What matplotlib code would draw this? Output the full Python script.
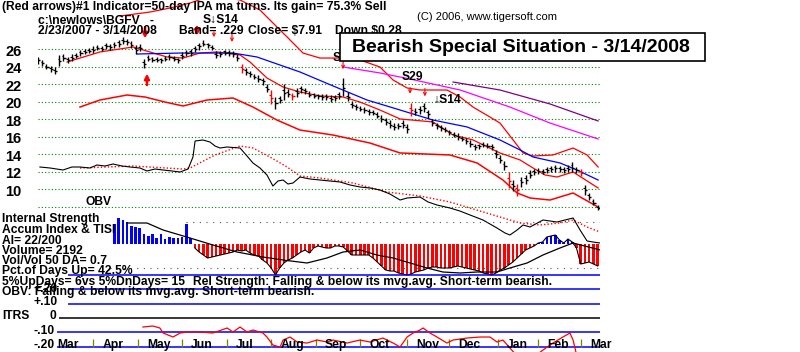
import numpy as np
import matplotlib
matplotlib.use("Agg")
import matplotlib.pyplot as plt
from matplotlib.patches import Rectangle

plt.rcParams['font.family'] = ['Liberation Sans', 'DejaVu Sans']

W, H = 800, 352
XMAX = 265.1          # trading days shown (2/23/2007 - 3/14/2008)

# ---------------- price bars (every 2nd trading day) ----------------
closes = [24.7, 24.4, 24.0, 23.7, 23.5, 24.6, 25.0, 24.7, 25.0, 25.2,
          25.5, 25.7, 25.8, 25.9, 26.1, 26.0, 26.3, 26.2, 26.4, 26.6,
          26.9, 26.8, 26.5, 25.9, 26.1, 24.3, 24.9, 24.8, 24.8, 24.7,
          24.9, 25.1, 24.9, 24.7, 25.2, 25.5, 25.6, 26.0, 26.3, 26.6,
          26.4, 26.1, 25.3, 25.4, 25.6, 25.5, 25.4, 25.0, 23.7, 23.4,
          23.1, 22.8, 22.6, 22.3, 21.5, 20.4, 19.8, 20.2, 21.0, 20.9,
          20.6, 21.0, 21.4, 21.2, 20.8, 20.7, 20.6, 20.5, 20.5, 20.3,
          20.4, 20.7, 21.6, 20.5, 19.6, 19.4, 19.2, 19.0, 18.8, 18.7,
          18.4, 18.0, 17.7, 17.4, 17.1, 17.2, 17.4, 16.9, 19.0, 18.8,
          19.0, 19.3, 18.6, 17.6, 17.2, 17.0, 16.8, 16.5, 16.2, 16.0,
          15.8, 15.5, 15.2, 14.8, 14.9, 15.1, 15.0, 14.8, 14.0, 13.4,
          12.7, 11.0, 10.4, 9.9, 10.8, 11.1, 11.7, 12.0, 12.1, 12.0,
          12.2, 12.3, 12.4, 12.3, 12.2, 12.3, 12.5, 12.2, 11.9, 9.9,
          9.2, 8.5, 7.9]
ranges = [0.8, 0.7, 0.6, 0.6, 0.8, 1.2, 0.8, 0.7, 0.7, 0.6,
          0.7, 0.6, 0.6, 0.7, 0.6, 0.6, 0.7, 0.6, 0.7, 0.8,
          0.8, 0.7, 0.8, 1.0, 0.8, 1.0, 0.7, 0.6, 0.5, 0.6,
          0.6, 0.7, 0.6, 0.6, 0.8, 0.7, 0.8, 0.7, 0.8, 0.7,
          0.6, 0.6, 0.8, 0.6, 0.6, 0.7, 0.6, 0.7, 1.0, 0.8,
          0.7, 0.6, 0.7, 0.8, 1.0, 1.6, 1.4, 0.9, 1.8, 0.9,
          0.8, 1.0, 0.8, 0.7, 0.7, 0.6, 0.6, 0.7, 0.6, 0.8,
          0.7, 0.8, 2.0, 1.0, 0.8, 0.7, 0.6, 0.7, 0.6, 0.6,
          0.7, 0.8, 0.9, 1.0, 0.8, 0.7, 1.0, 1.0, 1.5, 0.8,
          0.9, 1.0, 0.9, 0.8, 0.7, 0.7, 0.6, 0.6, 0.6, 0.7,
          0.6, 0.6, 0.7, 0.7, 0.6, 0.6, 0.6, 0.7, 0.8, 0.9,
          1.0, 1.8, 1.2, 1.4, 1.2, 1.0, 0.9, 0.7, 0.7, 0.6,
          0.6, 0.7, 0.8, 0.7, 0.7, 0.8, 1.2, 0.7, 0.8, 1.2,
          0.8, 0.7, 0.6]
red_bar_days = [96, 110, 120, 176, 222, 226, 256]

# ---------------- moving lines: (trading day, price) ----------------
upper_day = [38.7, 52.8, 62.3, 71.7, 78.8, 88.2, 95.3, 104.7, 112.7, 117.5, 125.0,
             133.0, 142.5, 151.9, 161.3, 167.5, 174.1, 180.2, 192.9, 199.1, 205.2,
             213.2, 217.9, 224.1, 228.8, 233.5, 242.9, 252.4, 259.0, 264.2]
upper_val = [29.76, 30.21, 30.67, 31.24, 31.81, 31.92, 31.58, 30.44, 28.51, 27.37, 25.54,
             24.97, 24.97, 24.75, 23.95, 22.47, 21.56, 21.33, 21.33, 20.53, 19.39,
             18.25, 17.57, 15.64, 14.16, 13.81, 13.93, 14.72, 13.93, 12.56]
ma21_day = [13.7, 29.2, 44.8, 52.8, 60.8, 68.4, 76.4, 84.4, 95.3, 100.0, 108.0,
            115.6, 123.6, 133.0, 143.9, 151.9, 161.3, 170.8, 186.3, 195.8, 205.2,
            217.9, 227.4, 233.5, 239.2, 244.8, 252.4, 264.2]
ma21_val = [24.52, 25.66, 26.23, 25.66, 25.09, 24.97, 25.54, 25.66, 25.32, 24.52, 22.70,
            21.67, 21.10, 20.65, 20.53, 19.96, 19.05, 18.03, 17.69, 16.20, 15.64,
            14.16, 13.36, 12.45, 11.65, 11.42, 11.99, 10.17]
lower_day = [19.8, 29.2, 42.0, 50.5, 59.9, 68.4, 79.7, 92.0, 101.4, 112.7, 123.6,
             139.2, 156.6, 170.8, 194.3, 207.1, 219.3, 226.0, 232.1, 241.5, 252.4, 264.2]
lower_val = [19.39, 20.19, 20.76, 20.53, 19.96, 19.51, 20.19, 20.42, 19.39, 17.91, 16.77,
             16.20, 15.29, 14.16, 13.93, 13.02, 11.08, 9.60, 9.03, 8.80, 9.60, 8.00]
ma50_day = [46.7, 67.0, 92.0, 103.3, 123.6, 139.2, 155.2, 170.8, 186.3, 202.4,
            217.9, 227.4, 233.5, 246.2, 254.2, 264.2]
ma50_val = [25.43, 25.54, 25.54, 25.09, 23.38, 21.79, 20.19, 19.05, 17.91, 17.12,
            15.64, 14.50, 13.70, 13.02, 12.22, 11.08]
ma65_day = [143.9, 161.3, 175.5, 199.1, 222.6, 241.5, 264.2]
ma65_val = [23.95, 23.27, 22.58, 21.33, 19.39, 17.57, 15.75]
ma200_day = [195.8, 217.9, 241.5, 264.2]
ma200_val = [22.24, 21.33, 19.74, 17.80]

# ---------------- OBV and its moving average ----------------
obv_day = [0.9, 5.7, 11.8, 16.0, 19.8, 24.5, 27.8, 31.6, 35.4, 39.6, 43.4, 48.1,
           51.4, 55.2, 59.0, 63.2, 67.0, 70.8, 73.1, 74.1, 77.8, 81.1, 83.5, 85.8,
           89.2, 95.3, 98.6, 101.4, 104.7, 108.0, 110.8, 113.2, 115.6, 117.9, 120.3,
           123.6, 128.3, 133.0, 137.7, 142.5, 147.2, 151.9, 156.6, 161.3, 166.0,
           170.8, 174.1, 180.2, 184.0, 188.2, 194.3, 199.0, 203.8, 209.9, 216.5,
           220.3, 222.6, 226.0, 228.8, 232.1, 238.2, 244.8, 252.4, 255.7, 259.0,
           261.8, 265.1]
obv_val = [7.8, 7.7, 7.5, 7.8, 7.8, 7.7, 8.0, 7.9, 8.1, 7.9, 7.8, 7.7,
           7.4, 7.6, 7.5, 7.4, 7.3, 7.6, 8.8, 10.4, 10.5, 10.3, 9.9, 9.7,
           9.8, 9.7, 8.9, 8.2, 7.7, 7.0, 5.9, 6.4, 6.5, 6.1, 6.2,
           6.8, 6.6, 6.5, 6.4, 6.3, 6.0, 5.8, 5.7, 5.5, 5.1,
           4.5, 4.7, 4.8, 4.3, 4.0, 3.7, 3.4, 3.0, 2.5, 1.7,
           1.2, 1.0, 1.5, 2.0, 1.8, 2.5, 2.3, 2.7, 1.5, 0.4,
           0.3, 0.2]
obvma_day = [19.8, 44.8, 68.4, 71.7, 83.5, 95.3, 101.4, 109.4, 117.5, 123.6, 133.0,
             148.6, 164.6, 180.2, 194.3, 217.9, 227.4, 236.8, 246.2, 252.4, 259.0, 265.1]
obvma_val = [7.7, 7.9, 7.6, 7.7, 9.0, 9.9, 9.7, 8.8, 7.8, 6.9, 6.7,
             6.2, 5.3, 4.9, 4.3, 2.8, 2.2, 2.0, 2.2, 2.5, 1.8, 1.3]

# ---------------- Accumulation Index (every 2nd day from day 36) ----------------
ai_val = [0.20, 0.26, 0.24, 0.22, 0.18, 0.17, 0.16, 0.10, 0.08, 0.10,
          0.06, 0.10, 0.05, 0.07, 0.06, 0.06, 0.07, 0.20, 0.06, -0.04,
          -0.08, -0.11, -0.14, -0.13, -0.12, -0.11, -0.10, -0.09, -0.08, -0.06,
          -0.07, -0.06, -0.09, -0.11, -0.12, -0.16, -0.19, -0.24, -0.31, -0.24,
          -0.19, -0.16, -0.14, -0.11, -0.08, -0.06, -0.09, -0.04, -0.02, -0.03,
          -0.04, -0.04, -0.02, -0.02, -0.03, -0.07, -0.11, -0.11, -0.11, -0.11,
          -0.11, -0.14, -0.18, -0.22, -0.26, -0.27, -0.27, -0.29, -0.30, -0.31,
          -0.30, -0.28, -0.27, -0.26, -0.24, -0.23, -0.23, -0.24, -0.24, -0.24,
          -0.23, -0.22, -0.23, -0.24, -0.25, -0.26, -0.27, -0.29, -0.30, -0.31,
          -0.29, -0.26, -0.24, -0.21, -0.18, -0.14, -0.10, -0.06, -0.04, -0.02,
          0.01, 0.02, 0.07, 0.08, 0.09, 0.04, 0.01, 0.05, 0.02, -0.04,
          -0.20, -0.19, -0.18, -0.20, -0.22]
aima_day = [42.0, 51.4, 59.0, 71.7, 82.5, 93.9, 106.1, 115.6, 126.9, 136.3, 143.9,
            151.9, 159.9, 167.5, 175.5, 183.5, 191.0, 199.1, 207.1, 216.5, 222.6,
            230.7, 238.2, 246.2, 252.4, 265.1]
aima_val = [0.21, 0.21, 0.14, 0.06, -0.01, -0.08, -0.13, -0.16, -0.19, -0.14, -0.08,
            -0.06, -0.11, -0.14, -0.19, -0.24, -0.28, -0.29, -0.28, -0.28, -0.24,
            -0.19, -0.11, -0.04, 0.01, -0.06]

# ---------------- ITRS ----------------
itrs_day = [49.5, 54.2, 57.5, 59.0, 63.7, 67.0, 70.3, 76.4, 82.5, 89.2, 92.0, 95.3,
            98.6, 101.4, 106.1, 108.0, 110.8, 114.2, 115.6, 118.9, 122.2, 126.9,
            131.6, 136.3, 139.2, 145.8, 151.9, 156.6, 162.7, 167.5, 170.8, 174.1,
            176.9, 180.2, 181.6, 184.9, 188.2, 192.9, 195.8, 202.4, 208.5, 213.2,
            216.5, 219.3, 222.6, 226.0, 232.0, 238.2, 242.9, 247.6, 250.9, 252.4,
            254.2, 258.0, 265.0]
itrs_val = [-0.063, -0.056, -0.070, -0.105, -0.133, -0.105, -0.098, -0.098, -0.105,
            -0.070, -0.098, -0.063, -0.098, -0.084, -0.105, -0.133, -0.189, -0.203,
            -0.154, -0.133, -0.168, -0.175, -0.154, -0.168, -0.154, -0.175, -0.154,
            -0.168, -0.140, -0.175, -0.203, -0.133, -0.105, -0.084, -0.070, -0.105,
            -0.133, -0.175, -0.154, -0.140, -0.133, -0.133, -0.168, -0.154, -0.210,
            -0.266, -0.294, -0.224, -0.175, -0.133, -0.105, -0.154, -0.266, -0.31,
            -0.31]
itrs_levels = [0.3, 0.2, 0.1, 0.0, -0.1, -0.2]
itrs_start = [14, 14, 14, 10, 9, 9]

month_days = [5, 26, 47, 68, 89, 110, 131, 152, 174, 194, 217, 236, 256]
month_names = ["Mar", "Apr", "May", "Jun", "Jul", "Aug", "Sep", "Oct", "Nov",
               "Dec", "Jan", "Feb", "Mar"]
price_ticks = [26, 24, 22, 20, 18, 16, 14, 12, 10]

# signal arrows (day, from price, to price)
big_arrows = [(50.5, 28.5, 27.2), (75.0, 28.5, 27.5), (51.4, 21.9, 23.2)]
thin_arrows = [(83.0, 27.95, 27.35), (91.5, 27.8, 26.8), (143.9, 24.8, 23.7),
               (175.5, 21.6, 20.9), (182.5, 21.5, 20.6)]

RED, BLUE, GREEN = '#ff0000', '#0000ff', '#008000'
FS = 8.7


def add_ax(x0, y0, x1, y1):
    ax = fig.add_axes([x0 / W, 1 - y1 / H, (x1 - x0) / W, (y1 - y0) / H])
    ax.set_axis_off()
    return ax


def ptext(x, y, s, size=FS, weight='bold', **kw):
    fig.text(x / W, 1 - y / H, s, fontsize=size, fontweight=weight,
             ha=kw.pop('ha', 'left'), va=kw.pop('va', 'center'), **kw)


fig = plt.figure(figsize=(8, 3.52), dpi=100)
fig.patch.set_facecolor('white')

# ---------------- price panel ----------------
ax = add_ax(38, 0, 600, 215)
ax.set_xlim(0, XMAX)
ax.set_ylim(26 - (215 - 49) / 8.78, 26 + 49 / 8.78)
for p in price_ticks + [8]:
    ax.hlines(p, 0, XMAX, colors=GREEN, linestyles=(0, (1, 2)), lw=0.8)

ax.plot(upper_day, upper_val, color=RED, lw=0.9)
ax.plot(ma21_day, ma21_val, color=RED, lw=0.9)
ax.plot(lower_day, lower_val, color=RED, lw=1.1)
ax.plot(ma50_day, ma50_val, color=BLUE, lw=0.9)
ax.plot(ma65_day, ma65_val, color='#ff00ff', lw=0.9)
ax.plot(ma200_day, ma200_val, color='#800080', lw=0.9)

days = np.arange(len(closes)) * 2
c = np.array(closes)
r = np.array(ranges)
hi = c + r * 0.55
lo = c - r * 0.45
cols = [RED if d in red_bar_days else 'black' for d in days]
ax.vlines(days, lo, hi, colors=cols, lw=1.0)
ax.hlines(c, days, days + 1.0, colors=cols, lw=1.0)
ax.hlines(c + r * 0.2, days - 0.8, days, colors=cols, lw=0.8)

for d, p0, p1 in big_arrows:
    ax.annotate('', xy=(d, p1), xytext=(d, p0),
                arrowprops=dict(arrowstyle='-|>', color=RED, lw=1.8,
                                mutation_scale=7, shrinkA=0, shrinkB=0))
for d, p0, p1 in thin_arrows:
    ax.annotate('', xy=(d, p1), xytext=(d, p0),
                arrowprops=dict(arrowstyle='->', color=RED, lw=0.8,
                                mutation_scale=5, shrinkA=0, shrinkB=0))

# ---------------- OBV ----------------
ax_obv = add_ax(38, 130, 600, 250)
ax_obv.set_xlim(0, XMAX)
ax_obv.set_ylim(-0.5, 11.5)
ax_obv.plot(obvma_day, obvma_val, color=RED, lw=1.0, linestyle=(0, (1, 1.5)))
ax_obv.plot(obv_day, obv_val, color='black', lw=0.8)

# ---------------- Accumulation index ----------------
ax_ai = add_ax(38, 213, 600, 280)
ax_ai.set_xlim(0, XMAX)
ax_ai.set_ylim(-0.36, 0.31)
ax_ai.hlines([0.22, -0.24], [70, 34], XMAX, colors='#555555',
             linestyles=(0, (1, 5)), lw=0.8)
ai_days = 36 + np.arange(len(ai_val)) * 2
ai = np.array(ai_val)
ax_ai.bar(ai_days, ai, width=1.2, color=np.where(ai > 0, BLUE, RED), linewidth=0)
ax_ai.plot(ai_days[ai_days >= 74], ai[ai_days >= 74], color='black', lw=0.8)
ax_ai.plot(aima_day, aima_val, color='black', lw=0.9)

# ---------------- ITRS ----------------
ax_it = add_ax(38, 268, 600, 352)
ax_it.set_xlim(0, XMAX)
ax_it.set_ylim(-(352 - 318) / 143, (318 - 268) / 143)
for lev, st in zip(itrs_levels, itrs_start):
    ax_it.hlines(lev, st, XMAX, colors='black' if lev == 0 else BLUE, lw=1.1)
ax_it.vlines(month_days, -0.2, -0.15, colors='#808000', lw=0.9)
ax_it.plot(itrs_day, itrs_val, color=RED, lw=0.9)
for d, m in zip(month_days, month_names):
    ax_it.text(d + 4.3, -0.192, m, fontsize=FS, fontweight='bold',
               ha='left', va='center')

# ---------------- texts ----------------
ptext(2, 7, "(Red arrows)#1 Indicator=50-day IPA ma turns. Its gain= 75.3% Sell")
ptext(38, 21, "c:\\newlows\\BGFV   -")
ptext(38, 30.5, "2/23/2007 - 3/14/2008")
ptext(179, 30.5, "Band= .229")
ptext(248, 30.5, "Close= $7.91")
ptext(335, 30.5, "Down $0.28")
ptext(203, 20, "S\u2193S14")
ptext(417, 17, "(C) 2006, www.tigersoft.com", size=8, weight='normal')
ptext(333, 58, "S14")
ptext(402, 77, "S29")
ptext(433, 100, "\u2193S14")

box = Rectangle((340 / W, 1 - 61 / H), 365 / W, 28 / H, transform=fig.transFigure,
                facecolor='white', edgecolor='black', lw=1.2, zorder=4)
fig.add_artist(box)
fig.text(521 / W, 1 - 47 / H, "Bearish Special Situation - 3/14/2008", fontsize=14,
         fontweight='bold', ha='center', va='center', zorder=5)

for p in price_ticks:
    ptext(5, 49 + (26 - p) * 8.78 + 2.5, str(p), size=10.5)
ptext(85, 202, "OBV")

left_lines = [(219, "Internal Strength"), (230, "Accum Index & TISI"),
              (241, "AI= 22/200"), (251, "Volume= 2192"),
              (261.5, "Vol/Vol 50 DA= 0.7"), (271, "Pct.of Days Up= 42.5%"),
              (281.5, "5%UpDays= 6vs 5%DnDays= 15"),
              (292, "OBV: Falling & below its mvg.avg. Short-term bearish.")]
for y, s in left_lines:
    ptext(2, y, s)
ptext(193, 281.5, "Rel Strength: Falling & below its mvg.avg. Short-term bearish.")
ptext(33, 289, "+.20")
ptext(33, 302, "+.10")
ptext(2, 316, "ITRS")
ptext(50, 316, "0")
ptext(33, 331, "-.10")
ptext(33, 345.5, "-.20")

fig.savefig("out.png", dpi=100, facecolor='white')
